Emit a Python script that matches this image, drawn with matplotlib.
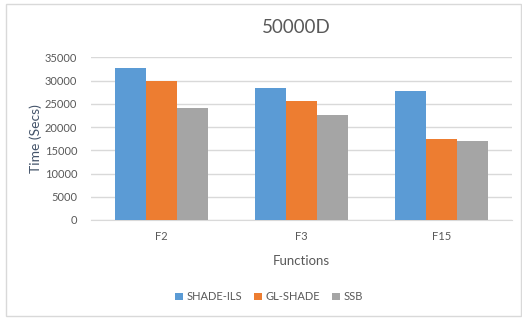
import matplotlib
matplotlib.use("Agg")
import matplotlib.pyplot as plt
from matplotlib.patches import Rectangle
import numpy as np

# run times at 50000 dimensions
functions = ["F2", "F3", "F15"]
shade_ils = [32600, 28400, 27700]
gl_shade = [30000, 25600, 17400]
ssb = [24200, 22500, 16900]
yticks = [0, 5000, 10000, 15000, 20000, 25000, 30000, 35000]

plt.rcParams['font.family'] = ['Lato', 'DejaVu Sans']
txt = '#595959'

fig = plt.figure(figsize=(5.22, 3.22), dpi=100)
ax = fig.add_axes([0.1743, 0.3168, 0.8066, 0.5052])

# light frame round the whole chart
fig.patches.append(Rectangle((6 / 522, 6 / 322), 515 / 522, 312 / 322,
                             transform=fig.transFigure, fill=False,
                             edgecolor='#d9d9d9', linewidth=1.0))

x = np.arange(len(functions))
w = 0.221
ax.bar(x - w, shade_ils, w, color='#5b9bd5', label='SHADE-ILS', zorder=3)
ax.bar(x, gl_shade, w, color='#ed7d31', label='GL-SHADE', zorder=3)
ax.bar(x + w, ssb, w, color='#a5a5a5', label='SSB', zorder=3)

ax.set_xlim(-0.5, 2.5)
ax.set_ylim(0, 35000)
ax.set_yticks(yticks)
ax.set_xticks(x)
ax.set_xticklabels(functions)
ax.grid(axis='y', color='#d9d9d9', linewidth=1.0, zorder=0)
for s in ['top', 'right', 'left']:
    ax.spines[s].set_visible(False)
ax.spines['bottom'].set_color('#d9d9d9')
ax.tick_params(length=0, labelsize=8, colors=txt)
ax.tick_params(axis='y', pad=10)
ax.tick_params(axis='x', pad=8)

ax.set_ylabel('Time (Secs)', fontsize=10, color='#44546a', labelpad=2)
ax.set_xlabel('Functions', fontsize=9.5, color=txt, labelpad=9)
fig.text(0.567, 0.915, '50000D', fontsize=13.5, color=txt, ha='center', va='center')

fig.legend(loc='center', bbox_to_anchor=(0.515, 0.078), ncol=3, frameon=False,
           fontsize=8, labelcolor=txt, handlelength=0.7, handleheight=0.7,
           handletextpad=0.3, columnspacing=1.1)

plt.savefig('out.png', dpi=100)
